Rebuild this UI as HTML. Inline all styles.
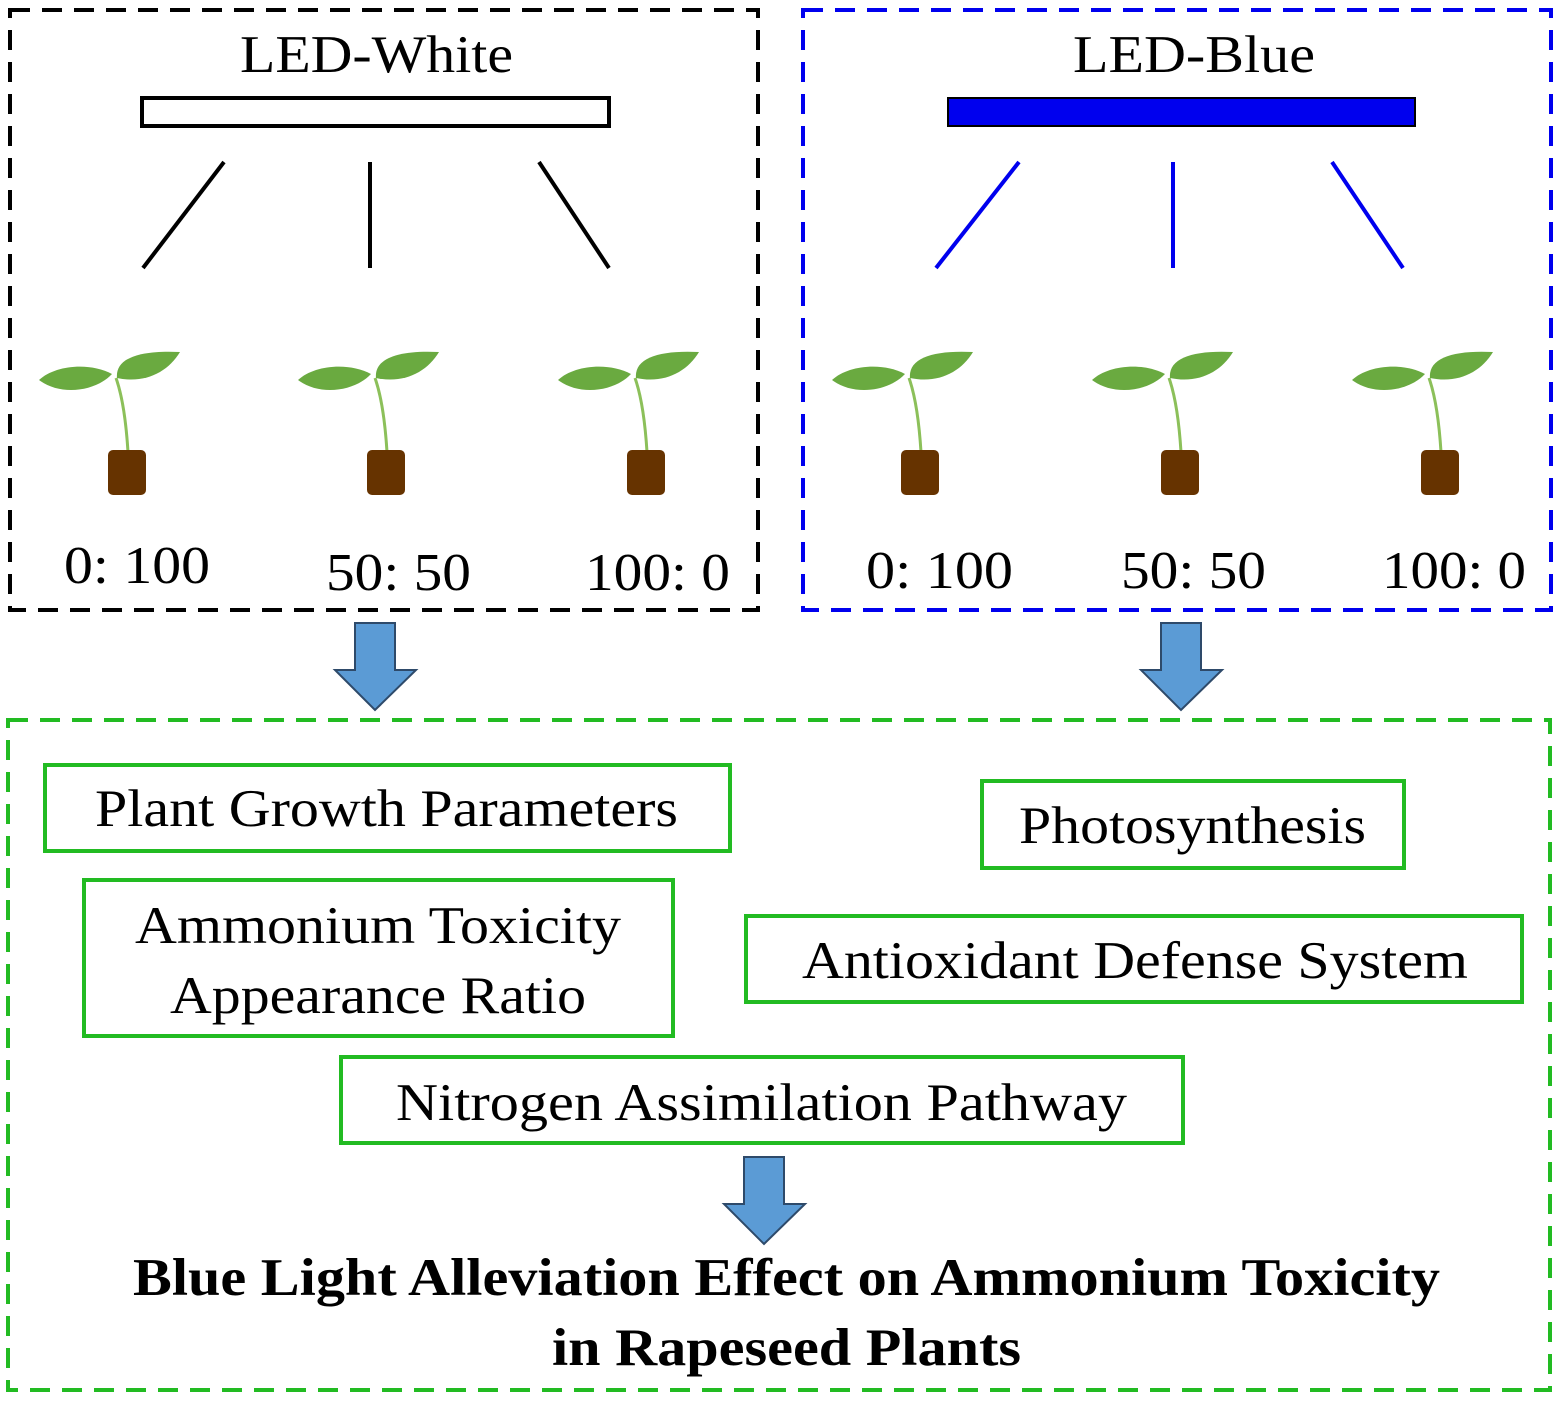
<!DOCTYPE html>
<html><head><style>body{margin:0;background:#fff}svg{display:block}</style></head><body>
<svg width="1564" height="1402" xmlns="http://www.w3.org/2000/svg" font-family="Liberation Serif, serif">
<defs>
<g id="p">
<path d="M128,452 C126,420 122,395 116,378" stroke="#8cc05a" stroke-width="3" fill="none"/>
<path d="M39,380 C55,365 90,362 112,374 C95,392 60,396 39,380 Z" fill="#6aaa40"/>
<path d="M117,378 C115,358 140,350 180,352 C168,372 145,384 117,378 Z" fill="#6aaa40"/>
<rect x="108" y="450" width="38" height="45" rx="5" fill="#663300"/>
</g>
<path id="a" d="M355,623 H395 V670 H416 L375,710 L335,670 H355 Z" fill="#5b9bd5" stroke="#2e4a6a" stroke-width="2"/>
</defs>
<rect x="10" y="10" width="748" height="600" fill="none" stroke="#000" stroke-width="4" stroke-dasharray="20,12"/>
<rect x="803" y="10" width="748" height="600" fill="none" stroke="#0000ee" stroke-width="4" stroke-dasharray="20,12"/>
<rect x="8" y="720" width="1542" height="670" fill="none" stroke="#22bb22" stroke-width="4" stroke-dasharray="20,12"/>
<g font-size="53" lengthAdjust="spacingAndGlyphs">
<text x="240" y="72" textLength="273" lengthAdjust="spacingAndGlyphs">LED-White</text>
<text x="1073" y="72" textLength="242" lengthAdjust="spacingAndGlyphs">LED-Blue</text>
<text x="64" y="583" textLength="146" lengthAdjust="spacingAndGlyphs">0: 100</text>
<text x="326" y="590" textLength="145" lengthAdjust="spacingAndGlyphs">50: 50</text>
<text x="585" y="590" textLength="145" lengthAdjust="spacingAndGlyphs">100: 0</text>
<text x="866" y="588" textLength="147" lengthAdjust="spacingAndGlyphs">0: 100</text>
<text x="1121" y="588" textLength="145" lengthAdjust="spacingAndGlyphs">50: 50</text>
<text x="1382" y="588" textLength="144" lengthAdjust="spacingAndGlyphs">100: 0</text>
</g>
<rect x="142" y="98" width="467" height="28" fill="#fff" stroke="#000" stroke-width="4"/>
<rect x="948" y="98" width="467" height="28" fill="#0000ee" stroke="#000" stroke-width="2"/>
<g stroke="#000" stroke-width="4"><line x1="224" y1="162" x2="143" y2="268"/><line x1="370" y1="162" x2="370" y2="268"/><line x1="539" y1="162" x2="609" y2="268"/></g>
<g stroke="#0000ee" stroke-width="4"><line x1="1019" y1="162" x2="936" y2="268"/><line x1="1173" y1="162" x2="1173" y2="268"/><line x1="1332" y1="162" x2="1403" y2="268"/></g>
<use href="#p"/><use href="#p" x="259"/><use href="#p" x="519"/>
<use href="#p" x="793"/><use href="#p" x="1053"/><use href="#p" x="1313"/>
<use href="#a"/><use href="#a" x="806"/><use href="#a" x="389" y="534"/>
<g fill="none" stroke="#22bb22" stroke-width="4">
<rect x="45" y="765" width="685" height="86"/><rect x="982" y="781" width="422" height="87"/>
<rect x="84" y="880" width="589" height="156"/><rect x="746" y="916" width="776" height="86"/>
<rect x="341" y="1057" width="842" height="86"/></g>
<g font-size="53">
<text x="95" y="826" textLength="583" lengthAdjust="spacingAndGlyphs">Plant Growth Parameters</text>
<text x="1019" y="843" textLength="347" lengthAdjust="spacingAndGlyphs">Photosynthesis</text>
<text x="135" y="943" textLength="486" lengthAdjust="spacingAndGlyphs">Ammonium Toxicity</text>
<text x="170" y="1013" textLength="416" lengthAdjust="spacingAndGlyphs">Appearance Ratio</text>
<text x="802" y="978" textLength="666" lengthAdjust="spacingAndGlyphs">Antioxidant Defense System</text>
<text x="396" y="1120" textLength="731" lengthAdjust="spacingAndGlyphs">Nitrogen Assimilation Pathway</text>
<text x="133" y="1295" font-weight="bold" textLength="1307" lengthAdjust="spacingAndGlyphs">Blue Light Alleviation Effect on Ammonium Toxicity</text>
<text x="552" y="1365" font-weight="bold" textLength="469" lengthAdjust="spacingAndGlyphs">in Rapeseed Plants</text>
</g>
</svg>
</body></html>
